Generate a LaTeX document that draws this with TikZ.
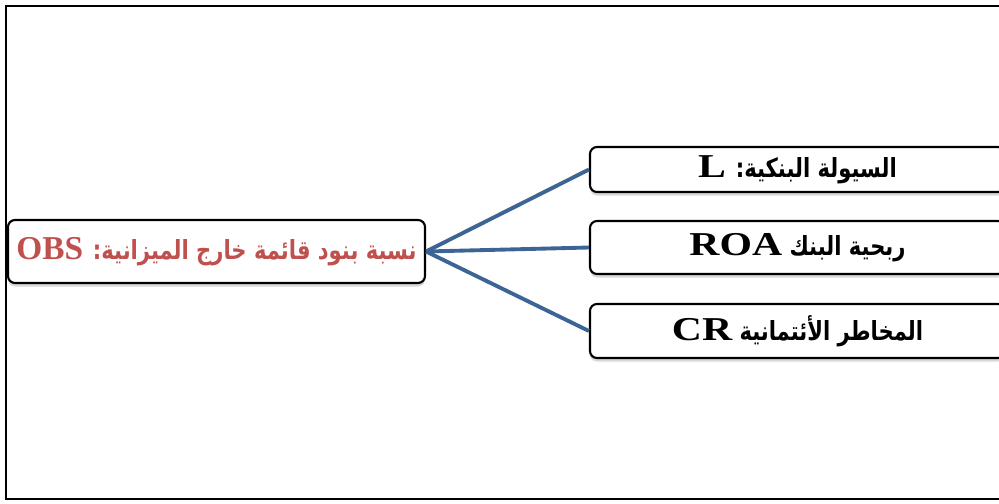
\documentclass[tikz,border=0pt]{standalone}
\usepackage{fontspec}
\setmainfont{Liberation Serif}
\newfontfamily\arabicfont[Script=Arabic,FakeStretch=0.8]{DejaVu Sans}
\newfontfamily\widelatin[FakeStretch=1.25]{Liberation Serif Bold}
\TeXXeTstate=1
\usetikzlibrary{shadows}
\definecolor{linkblue}{RGB}{60,101,150}
\definecolor{obsred}{RGB}{192,80,77}

\begin{document}
\begin{tikzpicture}[
	box/.style={draw, line width=1.2pt, rounded corners=4pt, fill=white, inner sep=0pt,
		drop shadow={shadow xshift=0pt, shadow yshift=-2pt, opacity=0.3}},
	itembox/.style={box, minimum width=8.3cm, font=\fontsize{15}{18}\selectfont},
	link/.style={draw=linkblue, line width=2.2pt}]
	\useasboundingbox (0,0) rectangle (19.98,10.06);
	\clip (0,0) rectangle (19.98,10.06);
	% outer frame
	\draw[line width=1.4pt] (21,9.94)--(0.12,9.94)--(0.12,0.08)--(21,0.08);
	% left box
	\node[box, minimum width=8.34cm, minimum height=1.26cm, text=obsred,
		font=\fontsize{15}{18}\selectfont] (obs) at (4.33,5.03)
		{\arabicfont\bfseries\beginR نسبة بنود قائمة خارج الميزانية: {\rmfamily\fontsize{19}{19}\selectfont OBS}\endR};
	% right boxes
	\node[itembox, minimum height=0.9cm] (liq) at (15.95,6.67)
		{\arabicfont\bfseries\beginR السيولة البنكية: {\widelatin\fontsize{19}{19}\selectfont L}\endR};
	\node[itembox, minimum height=1.06cm] (roa) at (15.95,5.11)
		{\arabicfont\bfseries\beginR ربحية البنك {\widelatin\fontsize{19}{19}\selectfont ROA}\endR};
	\node[itembox, minimum height=1.08cm] (cr) at (15.95,3.44)
		{\arabicfont\bfseries\beginR المخاطر الأئتمانية {\widelatin\fontsize{19}{19}\selectfont CR}\endR};
	% connectors
	\draw[link] (obs.east)--(liq.west);
	\draw[link] (obs.east)--(roa.west);
	\draw[link] (obs.east)--(cr.west);
\end{tikzpicture}
\end{document}
